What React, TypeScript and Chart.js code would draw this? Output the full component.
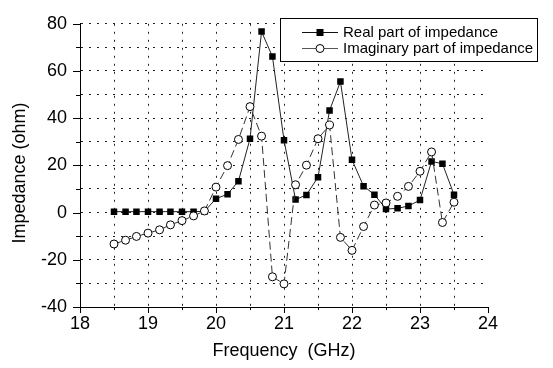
import React, { useEffect, useRef } from "react";
import { Chart, registerables } from "chart.js";

Chart.register(...registerables);

const frequencies = [18.5, 18.67, 18.83, 19.0, 19.17, 19.33, 19.5, 19.67, 19.83, 20.0, 20.17, 20.33, 20.5, 20.67, 20.83, 21.0, 21.17, 21.33, 21.5, 21.67, 21.83, 22.0, 22.17, 22.33, 22.5, 22.67, 22.83, 23.0, 23.17, 23.33, 23.5];
const realPart = [0.4, 0.4, 0.4, 0.4, 0.4, 0.4, 0.4, 0.4, 0.5, 5.9, 7.8, 13.3, 31.3, 76.7, 66.1, 30.7, 5.5, 7.5, 15, 43.3, 55.5, 22.4, 11.2, 7.6, 1.5, 1.8, 2.8, 5.3, 21.7, 20.7, 7.6];
const imaginaryPart = [-13.3, -11.7, -10.1, -8.7, -7.3, -5.2, -3.4, -1.4, 0.7, 10.8, 19.9, 31, 44.9, 32.4, -27.2, -30.2, 11.8, 20.1, 31.3, 37.1, -10.5, -16, -5.9, 3.2, 4.1, 6.9, 11.1, 17.5, 25.7, -4.2, 4.4];

const xTickLabels = [18, 19, 20, 21, 22, 23, 24];
const yTickLabels = [-40, -20, 0, 20, 40, 60, 80];

const seriesNames = ["Real part of impedance", "Imaginary part of impedance"];
const xAxisTitle = "Frequency  (GHz)";
const yAxisTitle = "Impedance (ohm)";

const FONT = '"Liberation Sans", Arial, sans-serif';

const axisDecor = {
  id: "axisDecor",
  afterDraw(chart: any) {
    const { ctx, chartArea } = chart;
    const x = chart.scales.x;
    const y = chart.scales.y;
    ctx.save();
    ctx.strokeStyle = "#000";
    ctx.lineWidth = 1;
    ctx.setLineDash([]);
    ctx.beginPath();
    x.ticks.forEach((t: any) => {
      const px = Math.round(x.getPixelForValue(t.value)) + 0.5;
      const major = xTickLabels.includes(t.value);
      ctx.moveTo(px, chartArea.bottom);
      ctx.lineTo(px, chartArea.bottom + (major ? 6 : 3));
    });
    y.ticks.forEach((t: any) => {
      const py = Math.round(y.getPixelForValue(t.value)) + 0.5;
      const major = yTickLabels.includes(t.value);
      ctx.moveTo(chartArea.left, py);
      ctx.lineTo(chartArea.left - (major ? 7 : 4), py);
    });
    ctx.stroke();

    // y axis title
    ctx.fillStyle = "#000";
    ctx.font = `18px ${FONT}`;
    ctx.textAlign = "center";
    ctx.textBaseline = "middle";
    ctx.translate(20, 173);
    ctx.rotate(-Math.PI / 2);
    ctx.fillText(yAxisTitle, 0, 0);
    ctx.restore();
  },
};

const boxLegend = {
  id: "boxLegend",
  afterDraw(chart: any) {
    const { ctx } = chart;
    ctx.save();
    const bx = 280.5, by = 18.5, bw = 257, bh = 43;
    ctx.fillStyle = "#fff";
    ctx.fillRect(bx, by, bw, bh);
    ctx.strokeStyle = "#000";
    ctx.lineWidth = 1;
    ctx.setLineDash([]);
    ctx.strokeRect(bx, by, bw, bh);

    const rows = [32, 48];
    ctx.font = `15px ${FONT}`;
    ctx.textBaseline = "middle";
    ctx.textAlign = "left";
    // real
    ctx.strokeStyle = "#111";
    ctx.beginPath();
    ctx.moveTo(302, rows[0] + 0.5);
    ctx.lineTo(338, rows[0] + 0.5);
    ctx.stroke();
    ctx.fillStyle = "#000";
    ctx.fillRect(316.5, rows[0] - 3, 7, 7);
    ctx.fillText(seriesNames[0], 343, rows[0] + 1);
    // imaginary
    ctx.strokeStyle = "#555";
    ctx.beginPath();
    ctx.moveTo(302, rows[1] + 0.5);
    ctx.lineTo(338, rows[1] + 0.5);
    ctx.stroke();
    ctx.beginPath();
    ctx.arc(320, rows[1] + 0.5, 4, 0, Math.PI * 2);
    ctx.fillStyle = "#fff";
    ctx.fill();
    ctx.strokeStyle = "#000";
    ctx.stroke();
    ctx.fillStyle = "#000";
    ctx.fillText(seriesNames[1], 343, rows[1] + 1);
    ctx.restore();
  },
};

export default function App() {
  const canvasRef = useRef<HTMLCanvasElement | null>(null);

  useEffect(() => {
    document.body.style.margin = "0";
    const canvas = canvasRef.current;
    if (!canvas) return;
    const chart = new Chart(canvas, {
      type: "line",
      data: {
        datasets: [
          {
            label: seriesNames[1],
            data: frequencies.map((f, i) => ({ x: f, y: imaginaryPart[i] })),
            borderColor: "#333",
            borderWidth: 1,
            borderDash: [8, 4],
            pointStyle: "circle",
            pointRadius: 4,
            pointBackgroundColor: "#fff",
            pointBorderColor: "#000",
            pointBorderWidth: 1,
            tension: 0,
            order: 0,
          },
          {
            label: seriesNames[0],
            data: frequencies.map((f, i) => ({ x: f, y: realPart[i] })),
            borderColor: "#222",
            borderWidth: 1,
            pointStyle: "rect",
            pointRadius: 4.6,
            pointBackgroundColor: "#000",
            pointBorderColor: "#000",
            pointBorderWidth: 0,
            tension: 0,
            order: 1,
          },
        ],
      },
      options: {
        responsive: false,
        animation: false,
        layout: { padding: { top: 19, right: 65, bottom: 0, left: 0 } },
        plugins: {
          legend: { display: false },
          tooltip: { enabled: false },
        },
        scales: {
          x: {
            type: "linear",
            min: 18,
            max: 24,
            afterFit: (s: any) => {
              s.height = 61;
            },
            ticks: {
              stepSize: 0.5,
              autoSkip: false,
              maxRotation: 0,
              padding: 6,
              color: "#000",
              font: { family: FONT, size: 18 },
              callback: (v: any) => (xTickLabels.includes(v) ? String(v) : ""),
            },
            grid: {
              drawTicks: false,
              color: (c: any) => (c.tick && c.tick.value === 24 ? "rgba(0,0,0,0)" : "#222"),
              lineWidth: 1,
            },
            border: { display: true, color: "#000", width: 1, dash: [2, 6] },
            title: {
              display: true,
              text: xAxisTitle,
              color: "#000",
              font: { family: FONT, size: 18 },
              padding: { top: 6, bottom: 6 },
            },
          },
          y: {
            type: "linear",
            min: -40,
            max: 80,
            afterFit: (s: any) => {
              s.width = 80;
            },
            ticks: {
              stepSize: 10,
              autoSkip: false,
              padding: 13,
              color: "#000",
              font: { family: FONT, size: 18 },
              callback: (v: any) => (yTickLabels.includes(v) ? String(v) : ""),
            },
            grid: {
              drawTicks: false,
              color: "#222",
              lineWidth: 1,
            },
            border: { display: true, color: "#000", width: 1, dash: [2, 6] },
          },
        },
      },
      plugins: [axisDecor, boxLegend],
    } as any);
    return () => chart.destroy();
  }, []);

  return (
    <div style={{ position: "absolute", left: 0, top: 0, width: 553, height: 368, background: "#fff" }}>
      <canvas ref={canvasRef} width={553} height={368} style={{ width: 553, height: 368 }} />
    </div>
  );
}
